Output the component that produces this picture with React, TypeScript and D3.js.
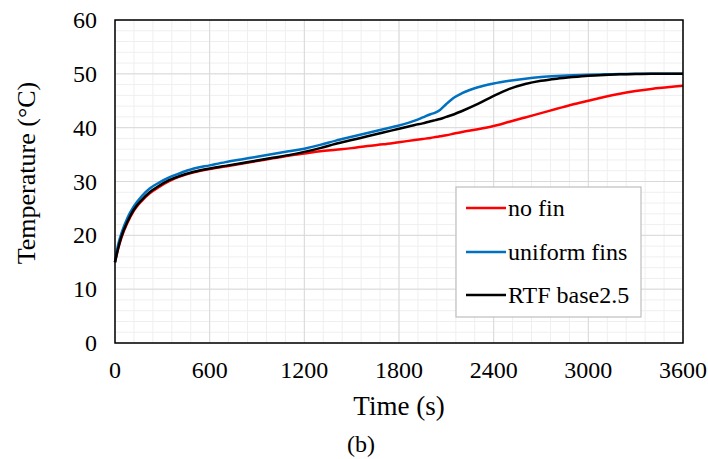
import React from "react";
import * as d3 from "d3";

const times = [0, 20, 40, 80, 120, 170, 220, 280, 340, 400, 500, 600, 700, 800, 900, 1000, 1100, 1200, 1300, 1400, 1500, 1600, 1700, 1800, 1900, 1950, 2000, 2030, 2060, 2100, 2150, 2200, 2300, 2400, 2500, 2600, 2700, 2800, 2900, 3000, 3100, 3200, 3300, 3400, 3500, 3600];

const noFin = [15, 17.5, 19.5, 22.4, 24.6, 26.4, 27.8, 29.0, 30.0, 30.8, 31.7, 32.3, 32.8, 33.3, 33.8, 34.3, 34.8, 35.2, 35.6, 35.9, 36.2, 36.6, 36.9, 37.3, 37.7, 37.9, 38.1, 38.25, 38.4, 38.6, 38.9, 39.2, 39.7, 40.3, 41.1, 41.9, 42.7, 43.5, 44.3, 45.0, 45.7, 46.3, 46.8, 47.2, 47.5, 47.8];

const uniformFins = [15, 18.3, 20.3, 23.3, 25.4, 27.3, 28.7, 29.8, 30.7, 31.4, 32.4, 33.0, 33.6, 34.1, 34.6, 35.1, 35.6, 36.1, 36.8, 37.6, 38.3, 39.0, 39.7, 40.4, 41.3, 41.9, 42.5, 42.8, 43.3, 44.4, 45.6, 46.4, 47.5, 48.2, 48.7, 49.1, 49.4, 49.6, 49.75, 49.85, 49.9, 49.95, 50, 50, 50, 50];

const rtfBase = [15, 17.6, 19.7, 22.6, 24.8, 26.6, 28.0, 29.2, 30.2, 30.9, 31.8, 32.4, 32.9, 33.4, 33.9, 34.4, 34.9, 35.5, 36.2, 37.0, 37.7, 38.4, 39.1, 39.8, 40.5, 40.8, 41.2, 41.4, 41.6, 42.0, 42.5, 43.1, 44.4, 45.9, 47.2, 48.1, 48.7, 49.1, 49.4, 49.65, 49.8, 49.9, 49.95, 50, 50, 50];

const xTicks = [0, 600, 1200, 1800, 2400, 3000, 3600];
const yTicks = [0, 10, 20, 30, 40, 50, 60];

const seriesNames = ["no fin", "uniform fins", "RTF base2.5"];
const seriesColors = ["#ff0000", "#0070c0", "#000000"];
const seriesValues = [noFin, uniformFins, rtfBase];

export default function App() {
  const W = 708, H = 459;
  const left = 115, right = 683, top = 20, bottom = 343;
  const x = d3.scaleLinear().domain([0, 3600]).range([left, right]);
  const y = d3.scaleLinear().domain([0, 60]).range([bottom, top]);
  const minorX = d3.range(0, 3601, 120);
  const minorY = d3.range(0, 60.01, 2);
  const line = d3
    .line<[number, number]>()
    .x((d) => x(d[0]))
    .y((d) => y(d[1]))
    .curve(d3.curveMonotoneX);
  const ts: React.CSSProperties = { fontFamily: "Liberation Serif, Times New Roman, serif" };
  const legendRows = [208, 252, 295];

  return (
    <svg width={W} height={H} style={{ position: "absolute", left: 0, top: 0, background: "#fff" }}>
      <rect x={0} y={0} width={W} height={H} fill="#fff" />
      {minorX.map((v) => (
        <line key={"mx" + v} x1={x(v)} x2={x(v)} y1={top} y2={bottom} stroke="#efefef" strokeWidth={1} />
      ))}
      {minorY.map((v) => (
        <line key={"my" + v} x1={left} x2={right} y1={y(v)} y2={y(v)} stroke="#efefef" strokeWidth={1} />
      ))}
      {xTicks.map((v) => (
        <line key={"gx" + v} x1={x(v)} x2={x(v)} y1={top} y2={bottom} stroke="#d9d9d9" strokeWidth={1} />
      ))}
      {yTicks.map((v) => (
        <line key={"gy" + v} x1={left} x2={right} y1={y(v)} y2={y(v)} stroke="#d9d9d9" strokeWidth={1} />
      ))}
      {seriesValues.map((vals, i) => (
        <path
          key={seriesNames[i]}
          d={line(times.map((t, j) => [t, vals[j]] as [number, number])) || ""}
          fill="none"
          stroke={seriesColors[i]}
          strokeWidth={2.5}
          strokeLinejoin="round"
        />
      ))}
      <rect x={left} y={top} width={right - left} height={bottom - top} fill="none" stroke="#000" strokeWidth={1.5} />
      {xTicks.map((v) => (
        <text key={"tx" + v} x={x(v)} y={378} textAnchor="middle" fontSize={24} fill="#000" style={ts}>
          {v}
        </text>
      ))}
      {yTicks.map((v) => (
        <text key={"ty" + v} x={97} y={y(v) + 8} textAnchor="end" fontSize={24} fill="#000" style={ts}>
          {v}
        </text>
      ))}
      <text x={(left + right) / 2} y={415} textAnchor="middle" fontSize={27} fill="#000" style={ts}>
        Time (s)
      </text>
      <text transform={`translate(35,173) rotate(-90)`} textAnchor="middle" fontSize={26} fill="#000" style={ts}>
        Temperature (°C)
      </text>
      <text x={361} y={452} textAnchor="middle" fontSize={24} fill="#000" style={ts}>
        (b)
      </text>
      <rect x={456} y={187} width={185} height={130} fill="#fff" stroke="#bfbfbf" strokeWidth={1.2} />
      {seriesNames.map((name, i) => (
        <g key={"lg" + name}>
          <line x1={466} x2={506} y1={legendRows[i]} y2={legendRows[i]} stroke={seriesColors[i]} strokeWidth={2.5} />
          <text x={508} y={legendRows[i] + 8} fontSize={24} fill="#000" style={ts}>
            {name}
          </text>
        </g>
      ))}
    </svg>
  );
}
